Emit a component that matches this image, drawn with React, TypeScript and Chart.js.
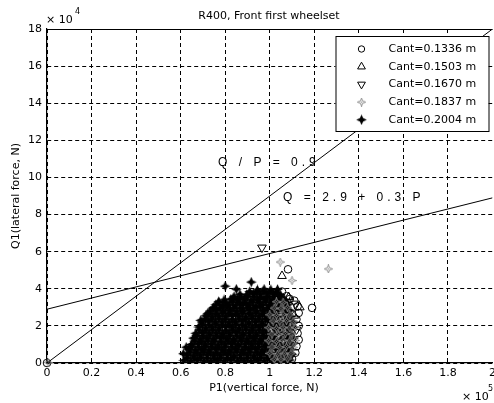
import { useEffect, useRef } from 'react';
import { Chart, registerables } from 'chart.js';

Chart.register(...registerables);

// ---- text ----
const chartTitle = 'R400, Front first wheelset';
const xAxisTitle = 'P1(vertical force, N)';
const yAxisTitle = 'Q1(lateral force, N)';
const xExponent = '5'; // P axis in units of 10^5 N
const yExponent = '4'; // Q axis in units of 10^4 N
const cantLabels = ['Cant=0.1336 m', 'Cant=0.1503 m', 'Cant=0.1670 m', 'Cant=0.1837 m', 'Cant=0.2004 m'];

// ---- axes ----
const xTickValues = [0, 0.2, 0.4, 0.6, 0.8, 1, 1.2, 1.4, 1.6, 1.8, 2];
const yTickValues = [0, 2, 4, 6, 8, 10, 12, 14, 16, 18];

// ---- limit lines (Q and P in 10^4 N) ----
const ratioLimit = 0.9;   // Q / P = 0.9
const fitIntercept = 2.9; // Q = 2.9 + 0.3 P
const fitSlope = 0.3;
const unitRatio = 10;     // 10^5 N per x unit / 10^4 N per y unit

// ---- measured points [P (x10^5 N), Q (x10^4 N)] ----
const cant1336: [number, number][] = [
  [0, 0], [1.082, 5.05], [1.11, 3.36], [1.19, 2.97], [1.125, 3.05], [1.13, 2.7], [1.12, 2.35],
  [1.13, 2.0], [1.125, 1.6], [1.13, 1.25], [1.12, 0.9], [1.115, 0.55], [1.1, 0.22], [1.075, 3.6],
  [1.055, 3.85], [1.09, 3.45], [1.06, 2.4], [1.08, 1.45], [1.04, 0.7], [1.07, 1.05], [1.05, 3.15],
  [1.085, 2.1],
];
const cant1503: [number, number][] = [
  [1.055, 4.69], [1.135, 3.0], [1.085, 3.55], [1.11, 2.55], [1.1, 1.35], [1.05, 1.7], [1.08, 0.6],
  [1.04, 2.8], [1.1, 2.1], [1.03, 3.6],
];
const cant1670: [number, number][] = [
  [0.965, 6.22], [1.115, 3.2], [1.12, 1.8], [1.1, 0.95], [1.065, 2.0], [1.04, 1.2], [1.07, 3.3],
  [1.095, 0.4],
];
const cant1837: [number, number][] = [
  [0.005, 0.03], [1.047, 5.44], [1.263, 5.07], [1.1, 4.44],
  [1.02, 0.2], [1.05, 0.18], [1.08, 0.22],
  [1.0, 0.52], [1.035, 0.48], [1.065, 0.53], [1.095, 0.5],
  [1.01, 0.86], [1.045, 0.83], [1.075, 0.88], [1.105, 0.85],
  [0.995, 1.2], [1.03, 1.17], [1.06, 1.22], [1.09, 1.19], [1.115, 1.21],
  [1.01, 1.56], [1.04, 1.53], [1.07, 1.58], [1.1, 1.55],
  [0.995, 1.9], [1.03, 1.87], [1.06, 1.92], [1.09, 1.89], [1.115, 1.91],
  [1.015, 2.26], [1.045, 2.23], [1.075, 2.28], [1.105, 2.25],
  [1.0, 2.6], [1.03, 2.57], [1.06, 2.62], [1.09, 2.59],
  [1.02, 2.96], [1.05, 2.93], [1.08, 2.98],
  [1.03, 3.3], [1.06, 3.27],
];
const cant2004: [number, number][] = [
  [0.615, 0.14], [0.645, 0.11], [0.675, 0.15], [0.705, 0.12], [0.735, 0.1], [0.765, 0.14], [0.795, 0.12],
  [0.825, 0.15], [0.855, 0.11], [0.885, 0.13], [0.915, 0.1], [0.945, 0.14], [0.975, 0.12], [1.005, 0.15],
  [0.63, 0.28], [0.66, 0.26], [0.69, 0.29], [0.72, 0.27], [0.75, 0.25], [0.78, 0.28], [0.81, 0.27],
  [0.84, 0.3], [0.87, 0.26], [0.9, 0.28], [0.93, 0.27], [0.96, 0.29], [0.99, 0.26], [1.02, 0.28],
  [0.628, 0.44], [0.658, 0.4], [0.688, 0.43], [0.718, 0.45], [0.748, 0.41], [0.778, 0.42], [0.808, 0.46],
  [0.838, 0.4], [0.868, 0.43], [0.898, 0.44], [0.928, 0.4], [0.958, 0.45], [0.988, 0.42], [1.012, 0.39],
  [0.643, 0.58], [0.673, 0.56], [0.703, 0.59], [0.733, 0.57], [0.763, 0.55], [0.793, 0.58], [0.823, 0.57],
  [0.853, 0.6], [0.883, 0.56], [0.913, 0.58], [0.943, 0.57], [0.973, 0.59], [1.003, 0.56],
  [0.636, 0.74], [0.666, 0.7], [0.696, 0.73], [0.726, 0.71], [0.756, 0.75], [0.786, 0.72], [0.816, 0.69],
  [0.846, 0.74], [0.876, 0.71], [0.906, 0.73], [0.936, 0.75], [0.966, 0.7], [0.996, 0.72],
  [0.651, 0.88], [0.681, 0.86], [0.711, 0.89], [0.741, 0.87], [0.771, 0.85], [0.801, 0.88], [0.831, 0.87],
  [0.861, 0.9], [0.891, 0.86], [0.921, 0.88], [0.951, 0.87], [0.981, 0.89], [1.011, 0.86],
  [0.648, 1.0], [0.678, 1.04], [0.708, 1.01], [0.738, 1.03], [0.768, 0.99], [0.798, 1.02], [0.828, 1.05],
  [0.858, 1.0], [0.888, 1.03], [0.918, 1.01], [0.948, 1.04], [0.978, 0.99], [1.006, 1.02],
  [0.663, 1.18], [0.693, 1.16], [0.723, 1.19], [0.753, 1.17], [0.783, 1.15], [0.813, 1.18], [0.843, 1.17],
  [0.873, 1.2], [0.903, 1.16], [0.933, 1.18], [0.963, 1.17], [0.993, 1.19],
  [0.657, 1.34], [0.687, 1.3], [0.717, 1.33], [0.747, 1.31], [0.777, 1.35], [0.807, 1.32], [0.837, 1.29],
  [0.867, 1.34], [0.897, 1.31], [0.927, 1.33], [0.957, 1.3], [0.987, 1.34],
  [0.672, 1.48], [0.702, 1.46], [0.732, 1.49], [0.762, 1.47], [0.792, 1.45], [0.822, 1.48], [0.852, 1.47],
  [0.882, 1.5], [0.912, 1.46], [0.942, 1.48], [0.972, 1.47], [1.002, 1.49],
  [0.668, 1.6], [0.698, 1.64], [0.728, 1.61], [0.758, 1.63], [0.788, 1.59], [0.818, 1.62], [0.848, 1.65],
  [0.878, 1.6], [0.908, 1.63], [0.938, 1.61], [0.968, 1.64], [0.998, 1.6],
  [0.683, 1.78], [0.713, 1.76], [0.743, 1.79], [0.773, 1.77], [0.803, 1.75], [0.833, 1.78], [0.863, 1.77],
  [0.893, 1.8], [0.923, 1.76], [0.953, 1.78], [0.983, 1.77],
  [0.682, 1.94], [0.712, 1.9], [0.742, 1.93], [0.772, 1.91], [0.802, 1.95], [0.832, 1.92], [0.862, 1.89],
  [0.892, 1.94], [0.922, 1.91], [0.952, 1.93], [0.982, 1.9],
  [0.697, 2.08], [0.727, 2.06], [0.757, 2.09], [0.787, 2.07], [0.817, 2.05], [0.847, 2.08], [0.877, 2.07],
  [0.907, 2.1], [0.937, 2.06], [0.967, 2.08], [0.997, 2.07],
  [0.696, 2.2], [0.726, 2.24], [0.756, 2.21], [0.786, 2.23], [0.816, 2.19], [0.846, 2.22], [0.876, 2.25],
  [0.906, 2.2], [0.936, 2.23], [0.966, 2.21], [0.996, 2.24],
  [0.711, 2.38], [0.741, 2.36], [0.771, 2.39], [0.801, 2.37], [0.831, 2.35], [0.861, 2.38], [0.891, 2.37],
  [0.921, 2.4], [0.951, 2.36], [0.981, 2.38],
  [0.712, 2.54], [0.742, 2.5], [0.772, 2.53], [0.802, 2.51], [0.832, 2.55], [0.862, 2.52], [0.892, 2.49],
  [0.922, 2.54], [0.952, 2.51], [0.982, 2.53],
  [0.727, 2.68], [0.757, 2.66], [0.787, 2.69], [0.817, 2.67], [0.847, 2.65], [0.877, 2.68], [0.907, 2.67],
  [0.937, 2.7], [0.967, 2.66], [0.997, 2.68],
  [0.733, 2.8], [0.763, 2.84], [0.793, 2.81], [0.823, 2.83], [0.853, 2.79], [0.883, 2.82], [0.913, 2.85],
  [0.943, 2.8], [0.973, 2.83], [1.003, 2.81],
  [0.748, 2.98], [0.778, 2.96], [0.808, 2.99], [0.838, 2.97], [0.868, 2.95], [0.898, 2.98], [0.928, 2.97],
  [0.958, 3.0], [0.988, 2.96], [1.018, 2.98],
  [0.758, 3.14], [0.788, 3.1], [0.818, 3.13], [0.848, 3.11], [0.878, 3.15], [0.908, 3.12], [0.938, 3.09],
  [0.968, 3.14], [0.998, 3.11], [1.028, 3.13],
  [0.773, 3.28], [0.803, 3.26], [0.833, 3.29], [0.863, 3.27], [0.893, 3.25], [0.923, 3.28], [0.953, 3.27],
  [0.983, 3.3], [1.013, 3.26], [1.043, 3.28],
  [0.795, 3.4], [0.825, 3.44], [0.855, 3.41], [0.885, 3.43], [0.915, 3.39], [0.945, 3.42], [0.975, 3.45],
  [1.005, 3.4], [1.035, 3.43],
  [0.84, 3.58], [0.87, 3.56], [0.9, 3.59], [0.93, 3.57], [0.96, 3.55], [0.99, 3.58], [1.02, 3.57], [1.05, 3.6],
  [0.866, 3.7], [0.896, 3.68], [0.926, 3.73], [0.956, 3.71], [0.986, 3.75], [1.016, 3.72], [1.046, 3.69],
  [0.91, 3.85], [0.94, 3.83], [0.97, 3.86], [1.0, 3.84], [1.03, 3.82],
  [0.945, 3.94], [0.975, 3.98], [1.005, 3.95], [1.035, 3.97],
  [0.77, 3.3], [0.8, 4.14], [0.85, 3.98], [0.917, 4.36], [0.835, 3.46], [0.69, 2.3], [0.612, 0.5],
  [0.625, 0.85], [0.745, 2.95], [0.72, 2.65],
  [1.035, 0.15], [1.065, 0.13], [1.09, 0.16], [1.05, 0.3], [1.08, 0.31],
  [1.045, 0.45], [1.075, 0.43], [1.1, 0.47], [1.08, 0.6], [1.04, 0.59],
  [1.035, 0.72], [1.065, 0.74], [1.095, 0.71], [1.05, 0.88], [1.08, 0.87],
  [1.04, 1.0], [1.07, 1.03], [1.1, 1.01], [1.03, 1.16], [1.085, 1.17],
  [1.02, 1.3], [1.05, 1.32], [1.08, 1.29], [1.105, 1.33], [1.02, 1.47], [1.075, 1.47],
  [1.03, 1.6], [1.06, 1.62], [1.09, 1.59], [1.03, 1.77], [1.09, 1.77],
  [1.015, 1.92], [1.045, 1.9], [1.075, 1.93], [1.1, 1.91], [1.03, 2.07], [1.07, 2.07],
  [1.025, 2.22], [1.055, 2.2], [1.085, 2.24], [1.105, 2.21], [1.02, 2.37], [1.08, 2.37],
  [1.01, 2.52], [1.04, 2.5], [1.07, 2.54], [1.095, 2.51], [1.02, 2.67], [1.075, 2.67],
  [1.03, 2.82], [1.06, 2.8], [1.09, 2.84], [1.045, 2.97], [1.075, 2.97],
  [1.05, 3.12], [1.08, 3.14], [1.075, 3.27], [1.065, 3.42],
];

const FONT = '11px "DejaVu Sans", Arial, sans-serif';
const ANNOT_FONT = '12px "Liberation Sans", Arial, sans-serif';

type MarkerKind = 'circle' | 'triangle' | 'triangleDown' | 'hollowStar' | 'solidStar';

function makeStar(size: number, outer: number, inner: number, fill: string | null, stroke: string | null) {
  const c = document.createElement('canvas');
  c.width = size;
  c.height = size;
  const g = c.getContext('2d')!;
  const cx = size / 2;
  const cy = size / 2;
  g.beginPath();
  for (let i = 0; i < 8; i++) {
    const r = i % 2 === 0 ? outer : inner;
    const a = -Math.PI / 2 + (i * Math.PI) / 4;
    g.lineTo(cx + r * Math.cos(a), cy + r * Math.sin(a));
  }
  g.closePath();
  if (fill) {
    g.fillStyle = fill;
    g.fill();
  }
  if (stroke) {
    g.strokeStyle = stroke;
    g.lineWidth = 1;
    g.stroke();
    g.fillStyle = stroke;
    g.fillRect(cx - 0.5, cy - 0.5, 1, 1);
  }
  return c;
}

export default function App() {
  const canvasRef = useRef<HTMLCanvasElement | null>(null);

  useEffect(() => {
    const canvas = canvasRef.current;
    if (!canvas) return;

    const solidStar = makeStar(11, 5.3, 2.3, '#000', null);
    const hollowStar = makeStar(9, 4.2, 1.5, null, '#8a8a8a');

    const drawMarker = (ctx: CanvasRenderingContext2D, kind: MarkerKind, x: number, y: number) => {
      ctx.save();
      ctx.strokeStyle = '#000';
      ctx.lineWidth = 1;
      if (kind === 'circle') {
        ctx.beginPath();
        ctx.arc(x, y, 3.2, 0, Math.PI * 2);
        ctx.stroke();
      } else if (kind === 'triangle' || kind === 'triangleDown') {
        const s = kind === 'triangle' ? 1 : -1;
        const r = 4.5;
        ctx.beginPath();
        ctx.moveTo(x, y - s * r);
        ctx.lineTo(x + r * 0.866, y + s * r * 0.5);
        ctx.lineTo(x - r * 0.866, y + s * r * 0.5);
        ctx.closePath();
        ctx.stroke();
      } else {
        const img = kind === 'solidStar' ? solidStar : hollowStar;
        ctx.drawImage(img, x - img.width / 2, y - img.height / 2);
      }
      ctx.restore();
    };

    const overlay = {
      id: 'overlay',
      afterDraw(chart: Chart) {
        const { ctx, chartArea: a } = chart;
        const xs = chart.scales.x;
        const ys = chart.scales.y;
        ctx.save();

        // frame top edge
        ctx.strokeStyle = '#000';
        ctx.lineWidth = 1;
        ctx.beginPath();
        ctx.moveTo(a.left, a.top + 0.5);
        ctx.lineTo(a.right, a.top + 0.5);
        ctx.stroke();

        ctx.fillStyle = '#000';
        ctx.font = FONT;
        ctx.textBaseline = 'middle';

        // titles
        ctx.textAlign = 'center';
        ctx.fillText(chartTitle, 269, 16);
        ctx.fillText(xAxisTitle, 264, 388);
        ctx.save();
        ctx.translate(16, (a.top + a.bottom) / 2);
        ctx.rotate(-Math.PI / 2);
        ctx.fillText(yAxisTitle, 0, 0);
        ctx.restore();

        // exponent labels
        ctx.textAlign = 'left';
        ctx.fillText('\u00d7 10', a.left - 1, 20);
        ctx.fillText('\u00d7 10', 462, 397);
        ctx.font = '8px "DejaVu Sans", Arial, sans-serif';
        ctx.fillText(yExponent, a.left + 28, 12);
        ctx.fillText(xExponent, 488, 389);

        // limit line annotations
        ctx.font = ANNOT_FONT;
        (ctx as any).letterSpacing = '4px';
        ctx.fillText(`Q / P = ${ratioLimit}`, xs.getPixelForValue(0.768), ys.getPixelForValue(10.8));
        ctx.fillText(`Q = ${fitIntercept} + ${fitSlope} P`, xs.getPixelForValue(1.06), ys.getPixelForValue(8.9));
        (ctx as any).letterSpacing = '0px';

        // legend
        const boxL = a.right - 157;
        const boxT = a.top + 7;
        const boxW = 153;
        const boxH = 95;
        ctx.fillStyle = '#fff';
        ctx.fillRect(boxL, boxT, boxW, boxH);
        ctx.strokeStyle = '#000';
        ctx.strokeRect(boxL + 0.5, boxT + 0.5, boxW, boxH);
        const kinds: MarkerKind[] = ['circle', 'triangle', 'triangleDown', 'hollowStar', 'solidStar'];
        ctx.font = FONT;
        cantLabels.forEach((label, i) => {
          const ry = boxT + 13 + i * 17.7;
          drawMarker(ctx, kinds[i], boxL + 26, ry);
          ctx.fillStyle = '#000';
          ctx.fillText(label, boxL + 53, ry);
        });

        ctx.restore();
      },
    };

    const toPts = (arr: [number, number][]) => arr.map(([x, y]) => ({ x, y }));
    const xMax = xTickValues[xTickValues.length - 1];

    const chart = new Chart(canvas, {
      type: 'scatter',
      data: {
        datasets: [
          {
            label: 'Q/P limit',
            data: [
              { x: 0, y: 0 },
              { x: xMax, y: ratioLimit * xMax * unitRatio },
            ],
            showLine: true,
            borderColor: '#000',
            borderWidth: 1,
            pointRadius: 0,
            order: 0,
          },
          {
            label: 'Q fit',
            data: [
              { x: 0, y: fitIntercept },
              { x: xMax, y: fitIntercept + fitSlope * xMax * unitRatio },
            ],
            showLine: true,
            borderColor: '#000',
            borderWidth: 1,
            pointRadius: 0,
            order: 0,
          },
          {
            label: cantLabels[3],
            data: toPts(cant1837),
            pointStyle: hollowStar,
            pointRadius: 4,
            order: 1,
            clip: false,
          },
          {
            label: cantLabels[4],
            data: toPts(cant2004),
            pointStyle: solidStar,
            pointRadius: 5,
            order: 2,
          },
          {
            label: cantLabels[2],
            data: toPts(cant1670),
            pointStyle: 'triangle',
            rotation: 180,
            pointRadius: 5,
            borderColor: '#000',
            borderWidth: 1,
            backgroundColor: 'rgba(0,0,0,0)',
            order: 3,
          },
          {
            label: cantLabels[1],
            data: toPts(cant1503),
            pointStyle: 'triangle',
            pointRadius: 5,
            borderColor: '#000',
            borderWidth: 1,
            backgroundColor: 'rgba(0,0,0,0)',
            order: 4,
          },
          {
            label: cantLabels[0],
            data: toPts(cant1336),
            pointStyle: 'circle',
            pointRadius: 3.8,
            borderColor: '#000',
            borderWidth: 1,
            backgroundColor: 'rgba(0,0,0,0)',
            order: 5,
            clip: false,
          },
        ],
      } as any,
      options: {
        responsive: false,
        animation: false,
        devicePixelRatio: 1,
        events: [],
        layout: { padding: { top: 29, right: 0, left: 0, bottom: 0 } },
        plugins: {
          legend: { display: false },
          tooltip: { enabled: false },
          title: { display: false },
        },
        scales: {
          x: {
            type: 'linear',
            min: 0,
            max: xMax,
            afterBuildTicks: (scale: any) => {
              scale.ticks = xTickValues.map((v) => ({ value: v }));
            },
            afterFit: (scale: any) => {
              scale.height = 40;
            },
            ticks: {
              autoSkip: false,
              maxRotation: 0,
              minRotation: 0,
              padding: 4,
              color: '#000',
              font: { family: '"DejaVu Sans", Arial, sans-serif', size: 11 },
              callback: (v: any) => String(Number(Number(v).toFixed(1))),
            },
            grid: {
              color: (c: any) => (c.tick && c.tick.value >= xMax ? 'rgba(0,0,0,0)' : '#000'),
              lineWidth: 1,
              drawTicks: false,
            },
            border: { display: true, color: '#000', width: 1.2, dash: [4, 3] },
          },
          y: {
            type: 'linear',
            min: 0,
            max: yTickValues[yTickValues.length - 1],
            afterBuildTicks: (scale: any) => {
              scale.ticks = yTickValues.map((v) => ({ value: v }));
            },
            afterFit: (scale: any) => {
              scale.width = 47;
            },
            ticks: {
              autoSkip: false,
              padding: 5,
              color: '#000',
              font: { family: '"DejaVu Sans", Arial, sans-serif', size: 11 },
              callback: (v: any) => String(v),
            },
            grid: { color: '#000', lineWidth: 1, drawTicks: false },
            border: { display: true, color: '#000', width: 1.2, dash: [4, 3] },
          },
        },
      },
      plugins: [overlay as any],
    });

    return () => chart.destroy();
  }, []);

  return (
    <div style={{ position: 'fixed', left: 0, top: 0, width: 494, height: 403, overflow: 'hidden', background: '#fff' }}>
      <canvas ref={canvasRef} width={500} height={403} style={{ display: 'block' }} />
    </div>
  );
}
